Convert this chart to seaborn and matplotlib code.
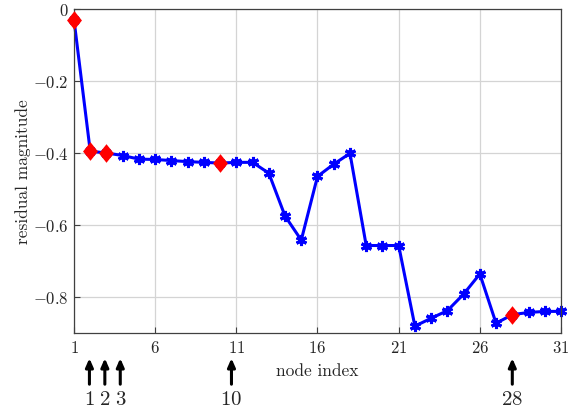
import numpy as np
import pandas as pd
import matplotlib
matplotlib.use("Agg")
import matplotlib.pyplot as plt
import seaborn as sns
from matplotlib.path import Path

# data
node = list(range(1, 32))
residual = [-0.030, -0.395, -0.400, -0.407, -0.417, -0.418, -0.421, -0.424, -0.426, -0.428,
            -0.426, -0.426, -0.456, -0.575, -0.642, -0.465, -0.431, -0.401, -0.657, -0.657,
            -0.657, -0.881, -0.859, -0.838, -0.792, -0.736, -0.873, -0.849, -0.843, -0.840,
            -0.840]
selected = [1, 2, 3, 10, 28]
arrow_x = [1.95, 2.9, 3.85, 10.7, 28]
arrow_labels = ["1", "2", "3", "10", "28"]

df = pd.DataFrame({"node": node, "residual": residual})
sel = df[df["node"].isin(selected)]

sns.set_style("ticks")
plt.rcParams["font.family"] = ["cmr10"]
plt.rcParams["mathtext.fontset"] = "cm"
plt.rcParams["axes.formatter.use_mathtext"] = True

fig = plt.figure(figsize=(5.79, 4.14), dpi=100)
ax = fig.add_axes([74 / 579, 1 - 334 / 414, (561 - 74) / 579, (334 - 10) / 414])

asterisk = (6, 2, 0)
sns.lineplot(data=df, x="node", y="residual", ax=ax, color="#0000ff", lw=2.2,
             marker=asterisk, markersize=8, markeredgewidth=2.2, markeredgecolor="#0000ff",
             clip_on=False)

diamond = Path([(0, 1), (0.8, 0), (0, -1), (-0.8, 0), (0, 1)],
               [Path.MOVETO, Path.LINETO, Path.LINETO, Path.LINETO, Path.CLOSEPOLY])
sns.scatterplot(data=sel, x="node", y="residual", ax=ax, color="#ff0000", marker=diamond,
                s=180, edgecolor="#ff0000", linewidth=0, zorder=5, clip_on=False)

ax.set_xlim(1, 31)
ax.set_ylim(-0.9, 0)
ax.set_xticks(range(1, 32, 5))
ax.set_yticks([0, -0.2, -0.4, -0.6, -0.8])
ax.set_yticklabels(["$0$", "$-0.2$", "$-0.4$", "$-0.6$", "$-0.8$"])
ax.set_xticklabels(["$%d$" % v for v in range(1, 32, 5)])
ax.grid(True, color="#d4d4d4", lw=0.9)
ax.set_axisbelow(True)
for s in ax.spines.values():
    s.set_color("#404040")
    s.set_linewidth(0.9)
ax.tick_params(direction="in", length=4, width=0.8, color="#404040", labelsize=12, pad=4)
ax.set_xlabel("node index", fontsize=12.5, labelpad=6)
ax.set_ylabel("residual magnitude", fontsize=12.5, labelpad=1)

trans = ax.get_xaxis_transform()
for x, lab in zip(arrow_x, arrow_labels):
    ax.annotate("", xy=(x, -0.078), xytext=(x, -0.158), xycoords=trans, textcoords=trans,
                arrowprops=dict(arrowstyle="-|>,head_length=0.5,head_width=0.22", lw=2.2,
                                color="black", shrinkA=0, shrinkB=0), annotation_clip=False)
    ax.text(x, -0.205, "$%s$" % lab, transform=trans, ha="center", va="center", fontsize=15)

fig.savefig("out.png", dpi=100)
